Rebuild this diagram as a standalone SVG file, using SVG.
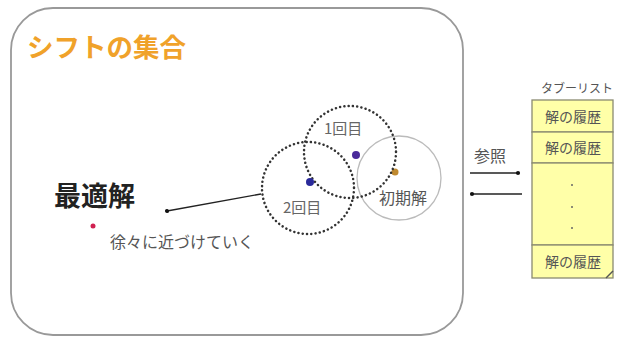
<svg xmlns="http://www.w3.org/2000/svg" width="621" height="338" viewBox="0 0 621 338">
<style>
text{font-family:"Noto Sans CJK JP","Noto Sans",sans-serif}
.lbl{fill:#666;font-size:15px}
.row{fill:#555;font-size:14px;text-anchor:middle}
.cell{fill:#ffffa8;stroke:#8a8a70;stroke-width:1.3}
.conn{stroke:#222;stroke-width:1.3;fill:none}
.dotted{fill:none;stroke:#333;stroke-width:2.5;stroke-dasharray:0.1 4.2;stroke-linecap:round}
</style>
<defs>
<marker id="dot" viewBox="0 0 10 10" refX="5" refY="5" markerWidth="4" markerHeight="4" orient="auto"><circle cx="5" cy="5" r="4" fill="#111"/></marker>
</defs>
<rect width="621" height="338" fill="#fff"/>
<g id="shift-set">
<rect x="11" y="8" width="452" height="327" rx="42" ry="42" fill="#fff" stroke="#999" stroke-width="1.8"/>
<text x="27" y="57" font-size="26.5" font-weight="bold" fill="#f0a22a">シフトの集合</text>
</g>
<g id="initial">
<circle cx="399" cy="178" r="42" fill="none" stroke="#bbb" stroke-width="1.3"/>
<circle cx="395" cy="172" r="3.5" fill="#c08a30"/>
<text x="379" y="204" font-size="16" fill="#555">初期解</text>
</g>
<g id="iter1">
<circle class="dotted" cx="350" cy="152" r="46"/>
<circle cx="356" cy="155" r="4" fill="#4a2a9a"/>
<text x="324" y="134" class="lbl">1回目</text>
</g>
<g id="iter2">
<circle class="dotted" cx="308" cy="188" r="46"/>
<circle cx="310" cy="182" r="4" fill="#2a2a9a"/>
<text x="283" y="213" class="lbl">2回目</text>
</g>
<g id="optimum">
<text x="54" y="206" font-size="27" font-weight="bold" fill="#222">最適解</text>
<circle cx="93" cy="226" r="2.5" fill="#d02050"/>
<text x="110" y="248" font-size="16" fill="#555">徐々に近づけていく</text>
</g>
<g id="tabu-list">
<text x="577" y="93" font-size="12" fill="#555" text-anchor="middle">タブーリスト</text>
<rect class="cell" x="532" y="100" width="81" height="32"/>
<rect class="cell" x="532" y="132" width="81" height="31"/>
<rect class="cell" x="532" y="163" width="81" height="82"/>
<rect class="cell" x="532" y="245" width="81" height="33"/>
<path d="M606 278 Q612 272 613 271" stroke="#555" stroke-width="1.5" fill="none"/>
<text class="row" x="573" y="122">解の履歴</text>
<text class="row" x="573" y="153">解の履歴</text>
<circle cx="572" cy="185" r="1" fill="#666"/>
<circle cx="572" cy="207" r="1" fill="#666"/>
<circle cx="572" cy="228" r="1" fill="#666"/>
<text class="row" x="573" y="267">解の履歴</text>
</g>
<g id="connectors">
<line class="conn" x1="261" y1="194" x2="167" y2="211" marker-end="url(#dot)"/>
<line class="conn" x1="470" y1="173" x2="518" y2="173" marker-end="url(#dot)"/>
<line class="conn" x1="522" y1="194" x2="472" y2="194" marker-end="url(#dot)"/>
<text x="474" y="162" font-size="16" fill="#555">参照</text>
</g>
</svg>
